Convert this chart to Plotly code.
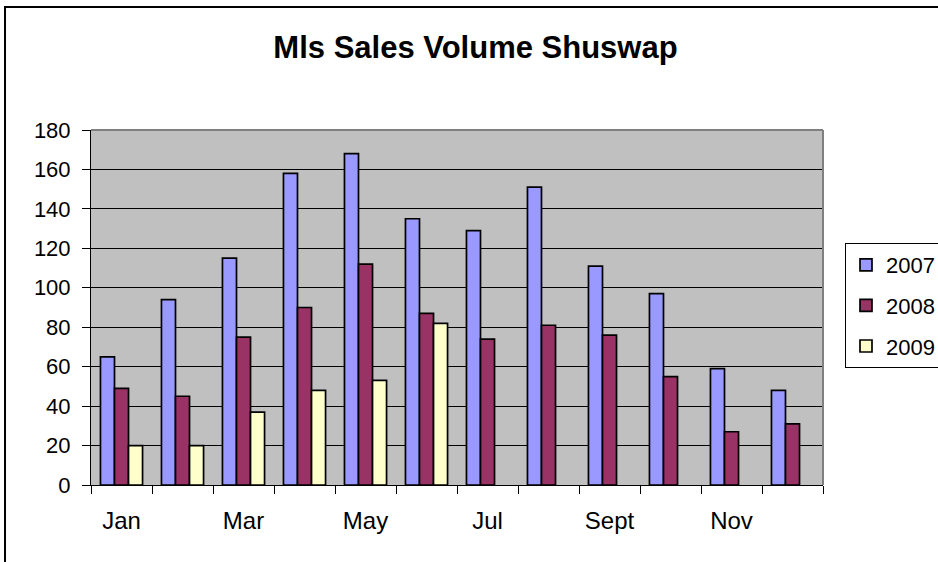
import plotly.graph_objects as go

months = ["Jan", "Feb", "Mar", "Apr", "May", "Jun", "Jul", "Aug", "Sept", "Oct", "Nov", "Dec"]
tick_labels = ["Jan", "", "Mar", "", "May", "", "Jul", "", "Sept", "", "Nov", ""]
sales_2007 = [65, 94, 115, 158, 168, 135, 129, 151, 111, 97, 59, 48]
sales_2008 = [49, 45, 75, 90, 112, 87, 74, 81, 76, 55, 27, 31]
sales_2009 = [20, 20, 37, 48, 53, 82, None, None, None, None, None, None]
y_ticks = [0, 20, 40, 60, 80, 100, 120, 140, 160, 180]

FONT = "Liberation Sans, Arial, sans-serif"

series = [
    ("2007", sales_2007, "#9999FF"),
    ("2008", sales_2008, "#993366"),
    ("2009", sales_2009, "#FFFFCC"),
]

fig = go.Figure()
for name, vals, color in series:
    fig.add_trace(go.Bar(
        name=name, x=months, y=vals, legendgroup=name,
        marker=dict(color=color, line=dict(color="#000000", width=1.7)),
    ))

W, H = 938, 562
L, R, T, B = 91, 823, 130, 485

fig.update_layout(
    width=W, height=H,
    margin=dict(l=L, r=W - R, t=T, b=H - B, autoexpand=False),
    paper_bgcolor="white",
    plot_bgcolor="#C0C0C0",
    barmode="group",
    bargap=0.31,
    bargroupgap=0,
    font=dict(family=FONT, color="black"),
    title=dict(
        text="<b>Mls Sales Volume Shuswap</b>",
        font=dict(family=FONT, size=31, color="black"),
        x=475.5 / W, xanchor="center", xref="container",
        y=1 - 47.5 / H, yanchor="middle", yref="container",
    ),
    legend=dict(
        x=(845 - L) / (R - L), xanchor="left",
        y=(B - 243) / (B - T), yanchor="top",
        bgcolor="white", bordercolor="black", borderwidth=1,
        font=dict(family=FONT, size=22, color="black"),
        tracegroupgap=9, traceorder="grouped",
    ),
    showlegend=True,
)

fig.update_xaxes(
    type="category",
    categoryorder="array", categoryarray=months,
    tickvals=months, ticktext=tick_labels,
    tickson="boundaries",
    ticks="outside", ticklen=8, tickcolor="black", tickwidth=1,
    showline=True, linecolor="black", linewidth=1,
    showgrid=False,
    tickfont=dict(family=FONT, size=24, color="black"),
    ticklabelstandoff=14,
)
fig.update_yaxes(
    range=[0, 180], tickvals=y_ticks,
    ticks="outside", ticklen=8, tickcolor="black", tickwidth=1,
    showline=True, linecolor="black", linewidth=1,
    showgrid=True, gridcolor="#000000", gridwidth=1,
    zeroline=False,
    tickfont=dict(family=FONT, size=22, color="black"),
    ticklabelstandoff=7,
)

# plot area top/right border (grey)
fig.add_shape(type="line", xref="paper", yref="paper", x0=0, x1=1, y0=1, y1=1,
              line=dict(color="#808080", width=2))
fig.add_shape(type="line", xref="paper", yref="paper", x0=1, x1=1, y0=0, y1=1,
              line=dict(color="#808080", width=2))
# outer chart frame (clipped at right/bottom)
fig.add_shape(type="rect", xref="paper", yref="paper",
              x0=(5 - L) / (R - L), x1=2.0,
              y0=-1.0, y1=(B - 7) / (B - T),
              line=dict(color="black", width=2), fillcolor="rgba(0,0,0,0)")

fig.write_html(
    "out.html",
    config={"displayModeBar": False},
    post_script="document.body.style.margin='0';document.body.style.overflow='hidden';",
)
